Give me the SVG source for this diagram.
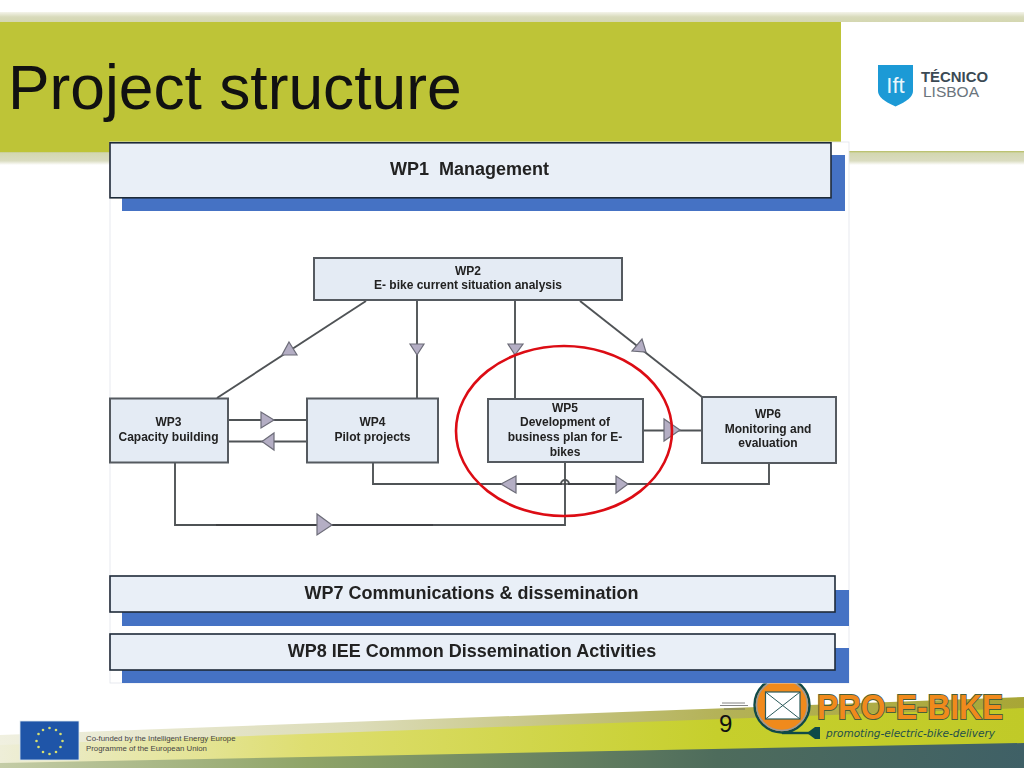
<svg xmlns="http://www.w3.org/2000/svg" width="1024" height="768" viewBox="0 0 1024 768">
<style>
.bar{fill:#e9eff7;stroke:#1f2a38;stroke-width:1.6}
.shadow{fill:#4472c4}
.box{fill:#e4ebf4;stroke:#555a60;stroke-width:2}
.line{fill:none;stroke:#505356;stroke-width:1.9}
.tri{fill:#b4aec4;stroke:#6c6c78;stroke-width:1.2}
.lbl{font-family:"Liberation Sans",Arial,sans-serif;font-weight:700;fill:#222;text-anchor:middle}
.s{font-size:12px}
.b{font-size:18px}
.soft{filter:url(#soft)}
</style>
<defs>
<filter id="soft" x="-5%" y="-5%" width="110%" height="110%"><feGaussianBlur stdDeviation="0.35"/></filter>
<linearGradient id="bandTop" x1="0" y1="0" x2="0" y2="1"><stop offset="0" stop-color="#f4f4ea"/><stop offset="0.5" stop-color="#d8dabb"/><stop offset="1" stop-color="#d4d7b0"/></linearGradient>
<linearGradient id="bandLow" x1="0" y1="0" x2="0" y2="1"><stop offset="0" stop-color="#b5bd5e"/><stop offset="0.15" stop-color="#d3d7b0"/><stop offset="0.7" stop-color="#dadcc0"/><stop offset="1" stop-color="#ffffff"/></linearGradient>
<linearGradient id="footTop" x1="0" y1="0" x2="1" y2="0"><stop offset="0" stop-color="#f0f0e0"/><stop offset="0.35" stop-color="#dcdcb8"/><stop offset="0.7" stop-color="#b4b258"/><stop offset="1" stop-color="#a8a636"/></linearGradient>
<linearGradient id="footMid" x1="0" y1="0" x2="1" y2="0"><stop offset="0" stop-color="#eeeed8"/><stop offset="0.3" stop-color="#dede70"/><stop offset="0.7" stop-color="#c6cf2c"/><stop offset="1" stop-color="#c0ca28"/></linearGradient>
<linearGradient id="footLow" x1="0" y1="0" x2="1" y2="0"><stop offset="0" stop-color="#c4cca6"/><stop offset="0.3" stop-color="#8fa468"/><stop offset="0.7" stop-color="#4e6c5c"/><stop offset="1" stop-color="#3f6066"/></linearGradient>
</defs>

<g id="header">
<rect x="0" y="0" width="1024" height="768" fill="#ffffff"/>
<rect x="0" y="12" width="1024" height="10" fill="url(#bandTop)"/>
<rect x="0" y="151" width="1024" height="14" fill="url(#bandLow)"/>
<rect x="0" y="22" width="841" height="130" fill="#bec437"/>
<text x="8" y="109" font-family="'Liberation Sans',Arial,sans-serif" font-size="62.300" fill="#111">Project structure</text>
</g>

<g id="tecnico-logo">
<path d="M878 65H913V91Q913 99 895.500 106.500Q878 99 878 91Z" fill="#1c9ad6"/>
<text x="895.500" y="93" font-family="'Liberation Sans',Arial,sans-serif" font-size="22" fill="#e8f6fc" text-anchor="middle">Ift</text>
<text x="921" y="81.500" font-family="'Liberation Sans',Arial,sans-serif" font-weight="700" font-size="15" fill="#3b4a54" textLength="67" lengthAdjust="spacingAndGlyphs">TÉCNICO</text>
<text x="923" y="96.700" font-family="'Liberation Sans',Arial,sans-serif" font-size="15.500" fill="#6a747c" textLength="56" lengthAdjust="spacingAndGlyphs">LISBOA</text>
</g>

<g id="footer">
<polygon points="0,735 1024,697 1024,768 0,768" fill="url(#footTop)"/>
<polygon points="0,745 1024,708 1024,768 0,768" fill="url(#footMid)"/>
<polygon points="0,763 1024,743 1024,768 0,768" fill="url(#footLow)"/>
<rect x="20" y="721" width="59" height="39" fill="#1f55a8" stroke="#dfe8f0" stroke-width="0.8"/>
<g fill="#d8e070">
<circle cx="49.500" cy="728" r="1.300"/><circle cx="56" cy="730" r="1.300"/><circle cx="60.500" cy="734" r="1.300"/><circle cx="62.500" cy="741" r="1.300"/><circle cx="60.500" cy="747" r="1.300"/><circle cx="56" cy="752" r="1.300"/><circle cx="49.500" cy="754" r="1.300"/><circle cx="43" cy="752" r="1.300"/><circle cx="38.500" cy="747" r="1.300"/><circle cx="36.500" cy="741" r="1.300"/><circle cx="38.500" cy="734" r="1.300"/><circle cx="43" cy="730" r="1.300"/>
</g>
<text x="86" y="741" font-family="'Liberation Sans',Arial,sans-serif" font-size="7.800" fill="#444">Co-funded by the Intelligent Energy Europe</text>
<text x="86" y="751" font-family="'Liberation Sans',Arial,sans-serif" font-size="7.800" fill="#444">Programme of the European Union</text>
</g>

<g id="page-number">
<path d="M722 703H745M720 705.500H748M724 709H745" fill="none" stroke="#666" stroke-width="0.8"/>
<text x="719" y="732" font-family="'Liberation Sans',Arial,sans-serif" font-size="24" fill="#111">9</text>
</g>

<g id="pro-e-bike-logo">
<circle cx="782" cy="705" r="27.500" fill="#f08a1c" stroke="#0f4a48" stroke-width="2.400"/>
<circle cx="782" cy="705" r="25.500" fill="none" stroke="#9a9a9a" stroke-width="1.500"/>
<path d="M782 733H812" fill="none" stroke="#0f4a48" stroke-width="2.400"/>
<rect x="765.500" y="692" width="34.500" height="27" fill="#fff" stroke="#2a5a5a" stroke-width="1.200"/>
<path d="M765.500 692L800 719M800 692L765.500 719" stroke="#2a5a5a" stroke-width="1" fill="none"/>
<path d="M807 733L815 727H820V739H815Z" fill="#0f4a48"/>
<text x="817" y="718.500" font-family="'Liberation Sans',Arial,sans-serif" font-weight="700" font-size="35" fill="#f08a1c" stroke="#4a6038" stroke-width="2" paint-order="stroke" textLength="186" lengthAdjust="spacingAndGlyphs">PRO-E-BIKE</text>
<text x="826" y="737" font-family="'DejaVu Sans',sans-serif" font-style="italic" font-size="11" fill="#1f4f4a" textLength="169" lengthAdjust="spacingAndGlyphs">promoting-electric-bike-delivery</text>
</g>

<g id="diagram" class="soft">
<rect x="110" y="142" width="739" height="541" fill="#ffffff" stroke="#e0e4ea" stroke-width="0.8"/>

<g id="connectors">
<path class="line" d="M366 301L217 398"/>
<path class="line" d="M417 300V398"/>
<path class="line" d="M515 300V399"/>
<path class="line" d="M580 301L702 397"/>
<path class="line" d="M228 420H307"/>
<path class="line" d="M228 441.500H307"/>
<path class="line" d="M175 462V525H565V462"/>
<path class="line" d="M373 462V484H561A4 4 0 0 1 569 484H769V463"/>
<path class="line" d="M643 430.500H702"/>
<path d="M216 525H433M500 484H628" fill="none" stroke="#3c3e40" stroke-width="1.700"/>
<polygon class="tri" points="289,342 297,355 282,355"/>
<polygon class="tri" points="410,344 424,344 417,355"/>
<polygon class="tri" points="508,344 523,344 515,355"/>
<polygon class="tri" points="642,339 646,352 632,351"/>
<polygon class="tri" points="261,412 261,428 274,420"/>
<polygon class="tri" points="274,433 274,450 262,441.500"/>
<polygon class="tri" points="317,514 317,535 332,525"/>
<polygon class="tri" points="516,476 516,493 501,484"/>
<polygon class="tri" points="616,476 616,493 628,484"/>
<polygon class="tri" points="664,419 664,441 680,430"/>
</g>

<g id="wp1">
<rect class="shadow" x="122" y="155" width="723" height="56"/>
<rect class="bar" x="110" y="142.800" width="721" height="55"/>
<text class="lbl b" x="469.500" y="175" xml:space="preserve">WP1  Management</text>
</g>
<g id="wp2">
<rect class="box" x="314" y="258" width="308" height="42"/>
<text class="lbl s" x="468" y="275">WP2</text>
<text class="lbl s" x="468" y="289">E- bike current situation analysis</text>
</g>
<g id="wp3">
<rect class="box" x="110" y="398.500" width="118" height="64"/>
<text class="lbl s" x="168.500" y="426">WP3</text>
<text class="lbl s" x="168.500" y="441">Capacity building</text>
</g>
<g id="wp4">
<rect class="box" x="307" y="398.500" width="131" height="64"/>
<text class="lbl s" x="372.500" y="426">WP4</text>
<text class="lbl s" x="372.500" y="441">Pilot projects</text>
</g>
<g id="wp5">
<rect class="box" x="488" y="399" width="155" height="63"/>
<text class="lbl s" x="565" y="412">WP5</text>
<text class="lbl s" x="565" y="426">Development of</text>
<text class="lbl s" x="565" y="441">business plan for E-</text>
<text class="lbl s" x="565" y="456">bikes</text>
</g>
<g id="wp6">
<rect class="box" x="702" y="397" width="134" height="66"/>
<text class="lbl s" x="768" y="418">WP6</text>
<text class="lbl s" x="768" y="433">Monitoring and</text>
<text class="lbl s" x="768" y="447">evaluation</text>
</g>
<g id="wp7">
<rect class="shadow" x="122" y="590" width="727" height="36"/>
<rect class="bar" x="110" y="576" width="725" height="36"/>
<text class="lbl b" x="471.500" y="599">WP7 Communications &amp; dissemination</text>
</g>
<g id="wp8">
<rect class="shadow" x="122" y="648" width="727" height="35"/>
<rect class="bar" x="110" y="634" width="725" height="36"/>
<text class="lbl b" x="472" y="657">WP8 IEE Common Dissemination Activities</text>
</g>
</g>

<ellipse id="highlight" cx="564" cy="431" rx="108" ry="85" fill="none" stroke="#dc0c14" stroke-width="2.600"/>
</svg>
